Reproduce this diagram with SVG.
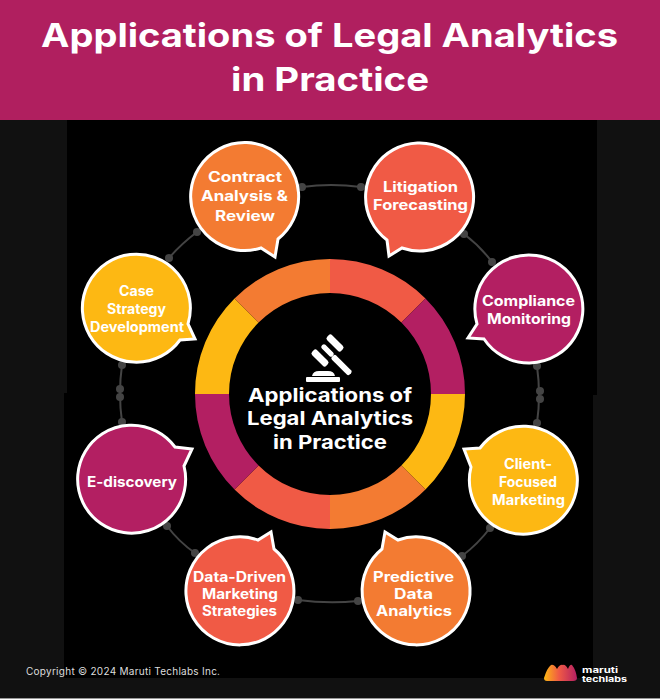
<svg xmlns="http://www.w3.org/2000/svg" width="660" height="699" viewBox="0 0 660 699">
<defs>
<style>
text{font-family:"Inter","Open Sans","Liberation Sans",sans-serif;fill:#fff;text-anchor:middle}
.n{font-size:14px;font-weight:700}
.c{font-size:19px;font-weight:700}
.t{font-size:33px;font-weight:700}
.b{stroke:#fff;stroke-width:3;stroke-linejoin:miter}
.l{fill:none;stroke:#444;stroke-width:2}
.d{fill:#444}
.m{fill:#b31f62}.o{fill:#f37b32}.r{fill:#f05a45}.y{fill:#fdb813}
</style>
<linearGradient id="g" x1="0" x2="1" y1="0" y2="0"><stop offset="0" stop-color="#fdb813"/><stop offset=".45" stop-color="#f05a45"/><stop offset="1" stop-color="#b31f62"/></linearGradient>
</defs>
<rect width="660" height="699" fill="#111"/>
<rect x="67" y="120" width="530" height="275" fill="#000"/>
<rect x="64" y="393" width="529" height="285" fill="#000"/>
<rect y="698" width="660" height="1" fill="#999"/>
<g id="header">
<rect width="660" height="120" fill="#b01f5f"/>
<text class="t" x="329.500" y="47" textLength="577" lengthAdjust="spacingAndGlyphs">Applications of Legal Analytics</text>
<text class="t" x="330" y="91" textLength="198" lengthAdjust="spacingAndGlyphs">in Practice</text>
</g>
<g id="connectors">
<path class="l" d="M302 187Q331 183 361 187"/>
<path class="l" d="M464 234Q480 246 492 262"/>
<path class="l" d="M197 232Q181 244 169 258"/>
<path class="l" d="M122 365Q118 393 122 422"/>
<path class="l" d="M537 366Q541 395 537 423"/>
<path class="l" d="M490 528Q478 544 462 556"/>
<path class="l" d="M167 526Q179 542 195 553"/>
<path class="l" d="M298 600Q328 604 358 601"/>
<g class="d">
<circle cx="302" cy="187" r="4"/><circle cx="361" cy="187" r="4"/>
<circle cx="464" cy="234" r="4"/><circle cx="492" cy="262" r="4"/>
<circle cx="197" cy="232" r="4"/><circle cx="169" cy="258" r="4"/>
<circle cx="122" cy="365" r="4"/><circle cx="122" cy="422" r="4"/><circle cx="120" cy="389" r="4"/><circle cx="120" cy="397" r="4"/>
<circle cx="537" cy="366" r="4"/><circle cx="537" cy="423" r="4"/><circle cx="540" cy="391" r="4"/><circle cx="540" cy="399" r="4"/>
<circle cx="490" cy="528" r="4"/><circle cx="462" cy="556" r="4"/>
<circle cx="167" cy="526" r="4"/><circle cx="195" cy="553" r="4"/>
<circle cx="298" cy="600" r="4"/><circle cx="358" cy="601" r="4"/>
</g>
</g>
<g id="ring">
<path class="r" d="M330 259A135 135 0 0 1 425.500 298.500L401.400 322.600A101 101 0 0 0 330 293Z"/>
<path class="m" d="M425.500 298.500A135 135 0 0 1 465 394L431 394A101 101 0 0 0 401.400 322.600Z"/>
<path class="y" d="M465 394A135 135 0 0 1 425.500 489.500L401.400 465.400A101 101 0 0 0 431 394Z"/>
<path class="o" d="M425.500 489.500A135 135 0 0 1 330 529L330 495A101 101 0 0 0 401.400 465.400Z"/>
<path class="r" d="M330 529A135 135 0 0 1 234.500 489.500L258.600 465.400A101 101 0 0 0 330 495Z"/>
<path class="m" d="M234.500 489.500A135 135 0 0 1 195 394L229 394A101 101 0 0 0 258.600 465.400Z"/>
<path class="y" d="M195 394A135 135 0 0 1 234.500 298.500L258.600 322.600A101 101 0 0 0 229 394Z"/>
<path class="o" d="M234.500 298.500A135 135 0 0 1 330 259L330 293A101 101 0 0 0 258.600 322.600Z"/>
</g>
<g id="center">
<g fill="#fff">
<rect x="306" y="377" width="34" height="5" rx="1"/>
<path d="M312 376Q313 371 319 371H328Q334 371 335 376Z"/>
<rect x="310" y="354.500" width="20" height="7" rx="2.500" transform="rotate(45 320 358)"/>
<rect x="320" y="348" width="15" height="5" rx="2" transform="rotate(45 327.500 350.500)"/>
<rect x="325" y="339.500" width="20" height="7" rx="2.500" transform="rotate(45 335 343)"/>
<rect x="329" y="362" width="25" height="6" rx="2" transform="rotate(45 341.500 365)"/>
</g>
<text class="c" x="330" y="402" textLength="164" lengthAdjust="spacingAndGlyphs">Applications of</text>
<text class="c" x="330" y="425" textLength="166" lengthAdjust="spacingAndGlyphs">Legal Analytics</text>
<text class="c" x="330" y="449" textLength="114" lengthAdjust="spacingAndGlyphs">in Practice</text>
</g>
<g id="contract">
<path class="b o" d="M261 248A54 54 0 1 1 278 239L275 257Z"/>
<text class="n" x="245" y="182" textLength="74" lengthAdjust="spacingAndGlyphs">Contract</text>
<text class="n" x="244.500" y="201" textLength="87" lengthAdjust="spacingAndGlyphs">Analysis &amp;</text>
<text class="n" x="245" y="221" textLength="60" lengthAdjust="spacingAndGlyphs">Review</text>
</g>
<g id="litigation">
<path class="b r" d="M387 240A54 54 0 1 1 402 248L389 256Z"/>
<text class="n" x="420.500" y="192" textLength="75" lengthAdjust="spacingAndGlyphs">Litigation</text>
<text class="n" x="420.500" y="210" textLength="95" lengthAdjust="spacingAndGlyphs">Forecasting</text>
</g>
<g id="compliance">
<path class="b m" d="M477 324A54 54 0 1 1 484 339L468 338Z"/>
<text class="n" x="528.500" y="306" textLength="93" lengthAdjust="spacingAndGlyphs">Compliance</text>
<text class="n" x="529" y="324" textLength="84" lengthAdjust="spacingAndGlyphs">Monitoring</text>
</g>
<g id="client">
<path class="b y" d="M480 448A54 54 0 1 1 471 467L464 449Z"/>
<text class="n" x="528" y="469" textLength="48" lengthAdjust="spacingAndGlyphs">Client-</text>
<text class="n" x="528" y="487" textLength="58" lengthAdjust="spacingAndGlyphs">Focused</text>
<text class="n" x="528.500" y="505" textLength="73" lengthAdjust="spacingAndGlyphs">Marketing</text>
</g>
<g id="predictive">
<path class="b o" d="M398 540A54 54 0 1 1 382 549L385 532Z"/>
<text class="n" x="413.500" y="582" textLength="81" lengthAdjust="spacingAndGlyphs">Predictive</text>
<text class="n" x="413.500" y="599" textLength="39" lengthAdjust="spacingAndGlyphs">Data</text>
<text class="n" x="414" y="616" textLength="76" lengthAdjust="spacingAndGlyphs">Analytics</text>
</g>
<g id="data-driven">
<path class="b r" d="M274 549A54 54 0 1 1 258 540L271 532Z"/>
<text class="n" x="239.500" y="582" textLength="93" lengthAdjust="spacingAndGlyphs">Data-Driven</text>
<text class="n" x="240" y="599" textLength="76" lengthAdjust="spacingAndGlyphs">Marketing</text>
<text class="n" x="239.500" y="616" textLength="75" lengthAdjust="spacingAndGlyphs">Strategies</text>
</g>
<g id="e-discovery">
<path class="b m" d="M184 466A54 54 0 1 1 175 447L192 449Z"/>
<text class="n" x="132" y="487" textLength="90" lengthAdjust="spacingAndGlyphs">E-discovery</text>
</g>
<g id="case">
<path class="b y" d="M180 340A54 54 0 1 1 188 324L195 339Z"/>
<text class="n" x="136.500" y="296" textLength="35" lengthAdjust="spacingAndGlyphs">Case</text>
<text class="n" x="136.500" y="314" textLength="59" lengthAdjust="spacingAndGlyphs">Strategy</text>
<text class="n" x="137" y="332" textLength="94" lengthAdjust="spacingAndGlyphs">Development</text>
</g>
<g id="footer">
<text x="123" y="675" font-size="10" style="fill:#ddd" textLength="194">Copyright © 2024 Maruti Techlabs Inc.</text>
<path fill="url(#g)" d="M544 678Q547 668 551 665Q554 664 557 669Q560 664 563 665Q565 664 568 669Q570 664 572 665Q576 670 577 678Q577 681 573 681H547Q544 681 544 678Z"/>
<text x="600" y="673" font-size="8" font-weight="700" textLength="36" lengthAdjust="spacingAndGlyphs">maruti</text>
<text x="604.500" y="682" font-size="8" font-weight="700" textLength="45" lengthAdjust="spacingAndGlyphs">techlabs</text>
</g>
</svg>
